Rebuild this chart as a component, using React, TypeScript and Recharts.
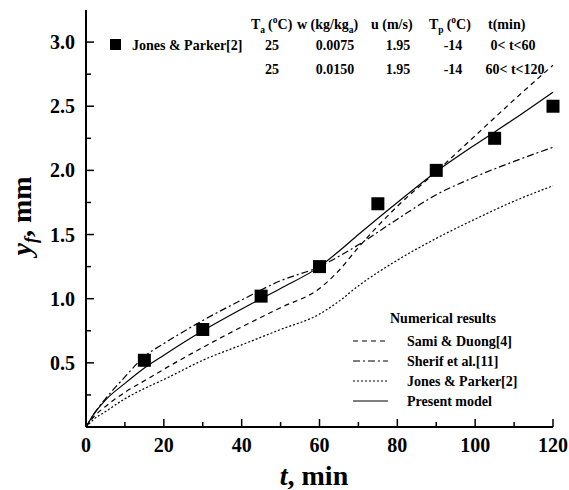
import React from "react";
import {
  ComposedChart,
  Line,
  Scatter,
  XAxis,
  YAxis,
} from "recharts";

// curve sample times (min)
const curveTime = [0, 2, 5, 10, 15, 20, 30, 40, 50, 60, 65, 70, 80, 90, 100, 110, 120];

// frost thickness y_f (mm)
const samiDuong = [0, 0.08, 0.16, 0.27, 0.36, 0.45, 0.62, 0.78, 0.93, 1.08, 1.22, 1.4, 1.72, 1.99, 2.27, 2.55, 2.82];
const sherif = [0, 0.1, 0.22, 0.39, 0.55, 0.65, 0.83, 0.99, 1.14, 1.25, 1.33, 1.42, 1.62, 1.81, 1.95, 2.07, 2.18];
const jonesParkerModel = [0, 0.06, 0.12, 0.22, 0.3, 0.37, 0.52, 0.64, 0.76, 0.88, 0.98, 1.1, 1.3, 1.47, 1.62, 1.76, 1.88];
const presentModel = [0, 0.1, 0.21, 0.34, 0.46, 0.56, 0.75, 0.92, 1.08, 1.25, 1.37, 1.5, 1.75, 1.99, 2.2, 2.4, 2.61];

// experimental points
const expTime = [15, 30, 45, 60, 75, 90, 105, 120];
const expThickness = [0.52, 0.76, 1.02, 1.25, 1.74, 2.0, 2.25, 2.5];

const xTicks = [0, 10, 20, 30, 40, 50, 60, 70, 80, 90, 100, 110, 120];
const yTicks = [0.25, 0.5, 0.75, 1.0, 1.25, 1.5, 1.75, 2.0, 2.25, 2.5, 2.75, 3.0];

const curveData = curveTime.map((t, i) => ({
  t,
  sami: samiDuong[i],
  sherif: sherif[i],
  jones: jonesParkerModel[i],
  present: presentModel[i],
}));
const expData = expTime.map((t, i) => ({ t, y: expThickness[i] }));

const FONT = "'Liberation Serif', 'Times New Roman', serif";

const XTick = (props: any) => {
  const { x, y, payload } = props;
  const v = payload.value;
  const major = v % 20 === 0;
  return (
    <g>
      <line x1={x} x2={x} y1={y} y2={y - (major ? 8 : 5)} stroke="#000" strokeWidth={1.5} />
      {major && (
        <text x={x} y={y + 25} textAnchor="middle" fontFamily={FONT} fontWeight="bold" fontSize={20} fill="#000">
          {v}
        </text>
      )}
    </g>
  );
};

const YTick = (props: any) => {
  const { x, y, payload } = props;
  const v = payload.value;
  const major = Math.abs(v * 2 - Math.round(v * 2)) < 1e-6;
  return (
    <g>
      <line x1={x} x2={x + (major ? 8 : 5)} y1={y} y2={y} stroke="#000" strokeWidth={1.5} />
      {major && (
        <text x={x - 11} y={y} dy="0.35em" textAnchor="end" fontFamily={FONT} fontWeight="bold" fontSize={20} fill="#000">
          {v.toFixed(1)}
        </text>
      )}
    </g>
  );
};

const Square = (props: any) => {
  const { cx, cy } = props;
  return <rect x={cx - 6.5} y={cy - 6.5} width={13} height={13} fill="#000" />;
};

const legendItems = [
  { name: "Sami & Duong[4]", dash: "5 4" },
  { name: "Sherif et al.[11]", dash: "7 3 2 3" },
  { name: "Jones & Parker[2]", dash: "2 2" },
  { name: "Present model", dash: undefined },
];

export default function App() {
  const txt = { fontFamily: FONT, fontWeight: "bold" as const, fontSize: 14, fill: "#000" };
  return (
    <div style={{ position: "absolute", left: 0, top: 0, width: 569, height: 490, background: "#fff" }}>
      <ComposedChart width={569} height={490} data={curveData} margin={{ top: 10, right: 16, bottom: 0, left: 0 }}>
        <XAxis
          dataKey="t"
          type="number"
          domain={[0, 120]}
          ticks={xTicks}
          interval={0}
          height={63}
          tickSize={0}
          tickMargin={0}
          tickLine={false}
          axisLine={{ stroke: "#000", strokeWidth: 2 }}
          tick={<XTick />}
        />
        <XAxis xAxisId="top" orientation="top" type="number" domain={[0, 120]} height={0} tick={false} tickLine={false} axisLine={{ stroke: "#000", strokeWidth: 2 }} />
        <YAxis
          type="number"
          domain={[0, 3.25]}
          ticks={yTicks}
          interval={0}
          width={86}
          tickSize={0}
          tickMargin={0}
          tickLine={false}
          allowDataOverflow
          axisLine={{ stroke: "#000", strokeWidth: 2 }}
          tick={<YTick />}
        />
        <YAxis yAxisId="right" orientation="right" type="number" domain={[0, 3.25]} width={0} tick={false} tickLine={false} axisLine={{ stroke: "#000", strokeWidth: 2 }} />
        <Line type="monotone" dataKey="sami" stroke="#000" strokeWidth={1.2} strokeDasharray="5 4" dot={false} isAnimationActive={false} />
        <Line type="monotone" dataKey="sherif" stroke="#000" strokeWidth={1.2} strokeDasharray="7 3 2 3" dot={false} isAnimationActive={false} />
        <Line type="monotone" dataKey="jones" stroke="#000" strokeWidth={1.2} strokeDasharray="2 2" dot={false} isAnimationActive={false} />
        <Line type="monotone" dataKey="present" stroke="#000" strokeWidth={1.2} dot={false} isAnimationActive={false} />
        <Scatter data={expData} dataKey="y" shape={<Square />} isAnimationActive={false} />
      </ComposedChart>
      <svg width={569} height={490} style={{ position: "absolute", left: 0, top: 0, pointerEvents: "none" }}>
        {/* experimental conditions table */}
        <text x={251} y={29} {...txt}>
          T<tspan dy={4} fontSize={9.5}>a</tspan>
          <tspan dy={-4} dx={3}>(</tspan>
          <tspan dy={-6} fontSize={9.5}>o</tspan>
          <tspan dy={6}>C)</tspan>
        </text>
        <text x={297} y={29} {...txt}>
          w (kg/kg<tspan dy={4} fontSize={9.5}>a</tspan>
          <tspan dy={-4}>)</tspan>
        </text>
        <text x={371} y={29} {...txt}>u (m/s)</text>
        <text x={429} y={29} {...txt}>
          T<tspan dy={4} fontSize={9.5}>p</tspan>
          <tspan dy={-4} dx={3}>(</tspan>
          <tspan dy={-6} fontSize={9.5}>o</tspan>
          <tspan dy={6}>C)</tspan>
        </text>
        <text x={488} y={29} {...txt}>t(min)</text>

        <rect x={110} y={39} width={11} height={11} fill="#000" />
        <text x={132} y={50} {...txt}>Jones &amp; Parker[2]</text>
        <text x={272} y={50} textAnchor="middle" {...txt}>25</text>
        <text x={335} y={50} textAnchor="middle" {...txt}>0.0075</text>
        <text x={398} y={50} textAnchor="middle" {...txt}>1.95</text>
        <text x={453} y={50} textAnchor="middle" {...txt}>-14</text>
        <text x={513} y={50} textAnchor="middle" {...txt}>0&lt; t&lt;60</text>

        <text x={272} y={74} textAnchor="middle" {...txt}>25</text>
        <text x={335} y={74} textAnchor="middle" {...txt}>0.0150</text>
        <text x={398} y={74} textAnchor="middle" {...txt}>1.95</text>
        <text x={453} y={74} textAnchor="middle" {...txt}>-14</text>
        <text x={515} y={74} textAnchor="middle" {...txt}>60&lt; t&lt;120</text>

        {/* numerical results legend */}
        <text x={390} y={323} {...txt}>Numerical results</text>
        {legendItems.map((it, i) => (
          <g key={it.name}>
            <line x1={353} x2={388} y1={341 + i * 20} y2={341 + i * 20} stroke="#000" strokeWidth={1.2} strokeDasharray={it.dash} />
            <text x={407} y={346 + i * 20} {...txt}>{it.name}</text>
          </g>
        ))}

        {/* axis titles */}
        <text x={314} y={485} textAnchor="middle" fontFamily={FONT} fontWeight="bold" fontSize={28} fill="#000">
          <tspan fontStyle="italic">t</tspan>, min
        </text>
        <text x={31} y={216} transform="rotate(-90, 31, 216)" textAnchor="middle" fontFamily={FONT} fontWeight="bold" fontSize={28} fill="#000">
          <tspan fontStyle="italic">y</tspan>
          <tspan fontStyle="italic" fontSize={18} dy={6}>f</tspan>
          <tspan dy={-6}>, mm</tspan>
        </text>
      </svg>
    </div>
  );
}
